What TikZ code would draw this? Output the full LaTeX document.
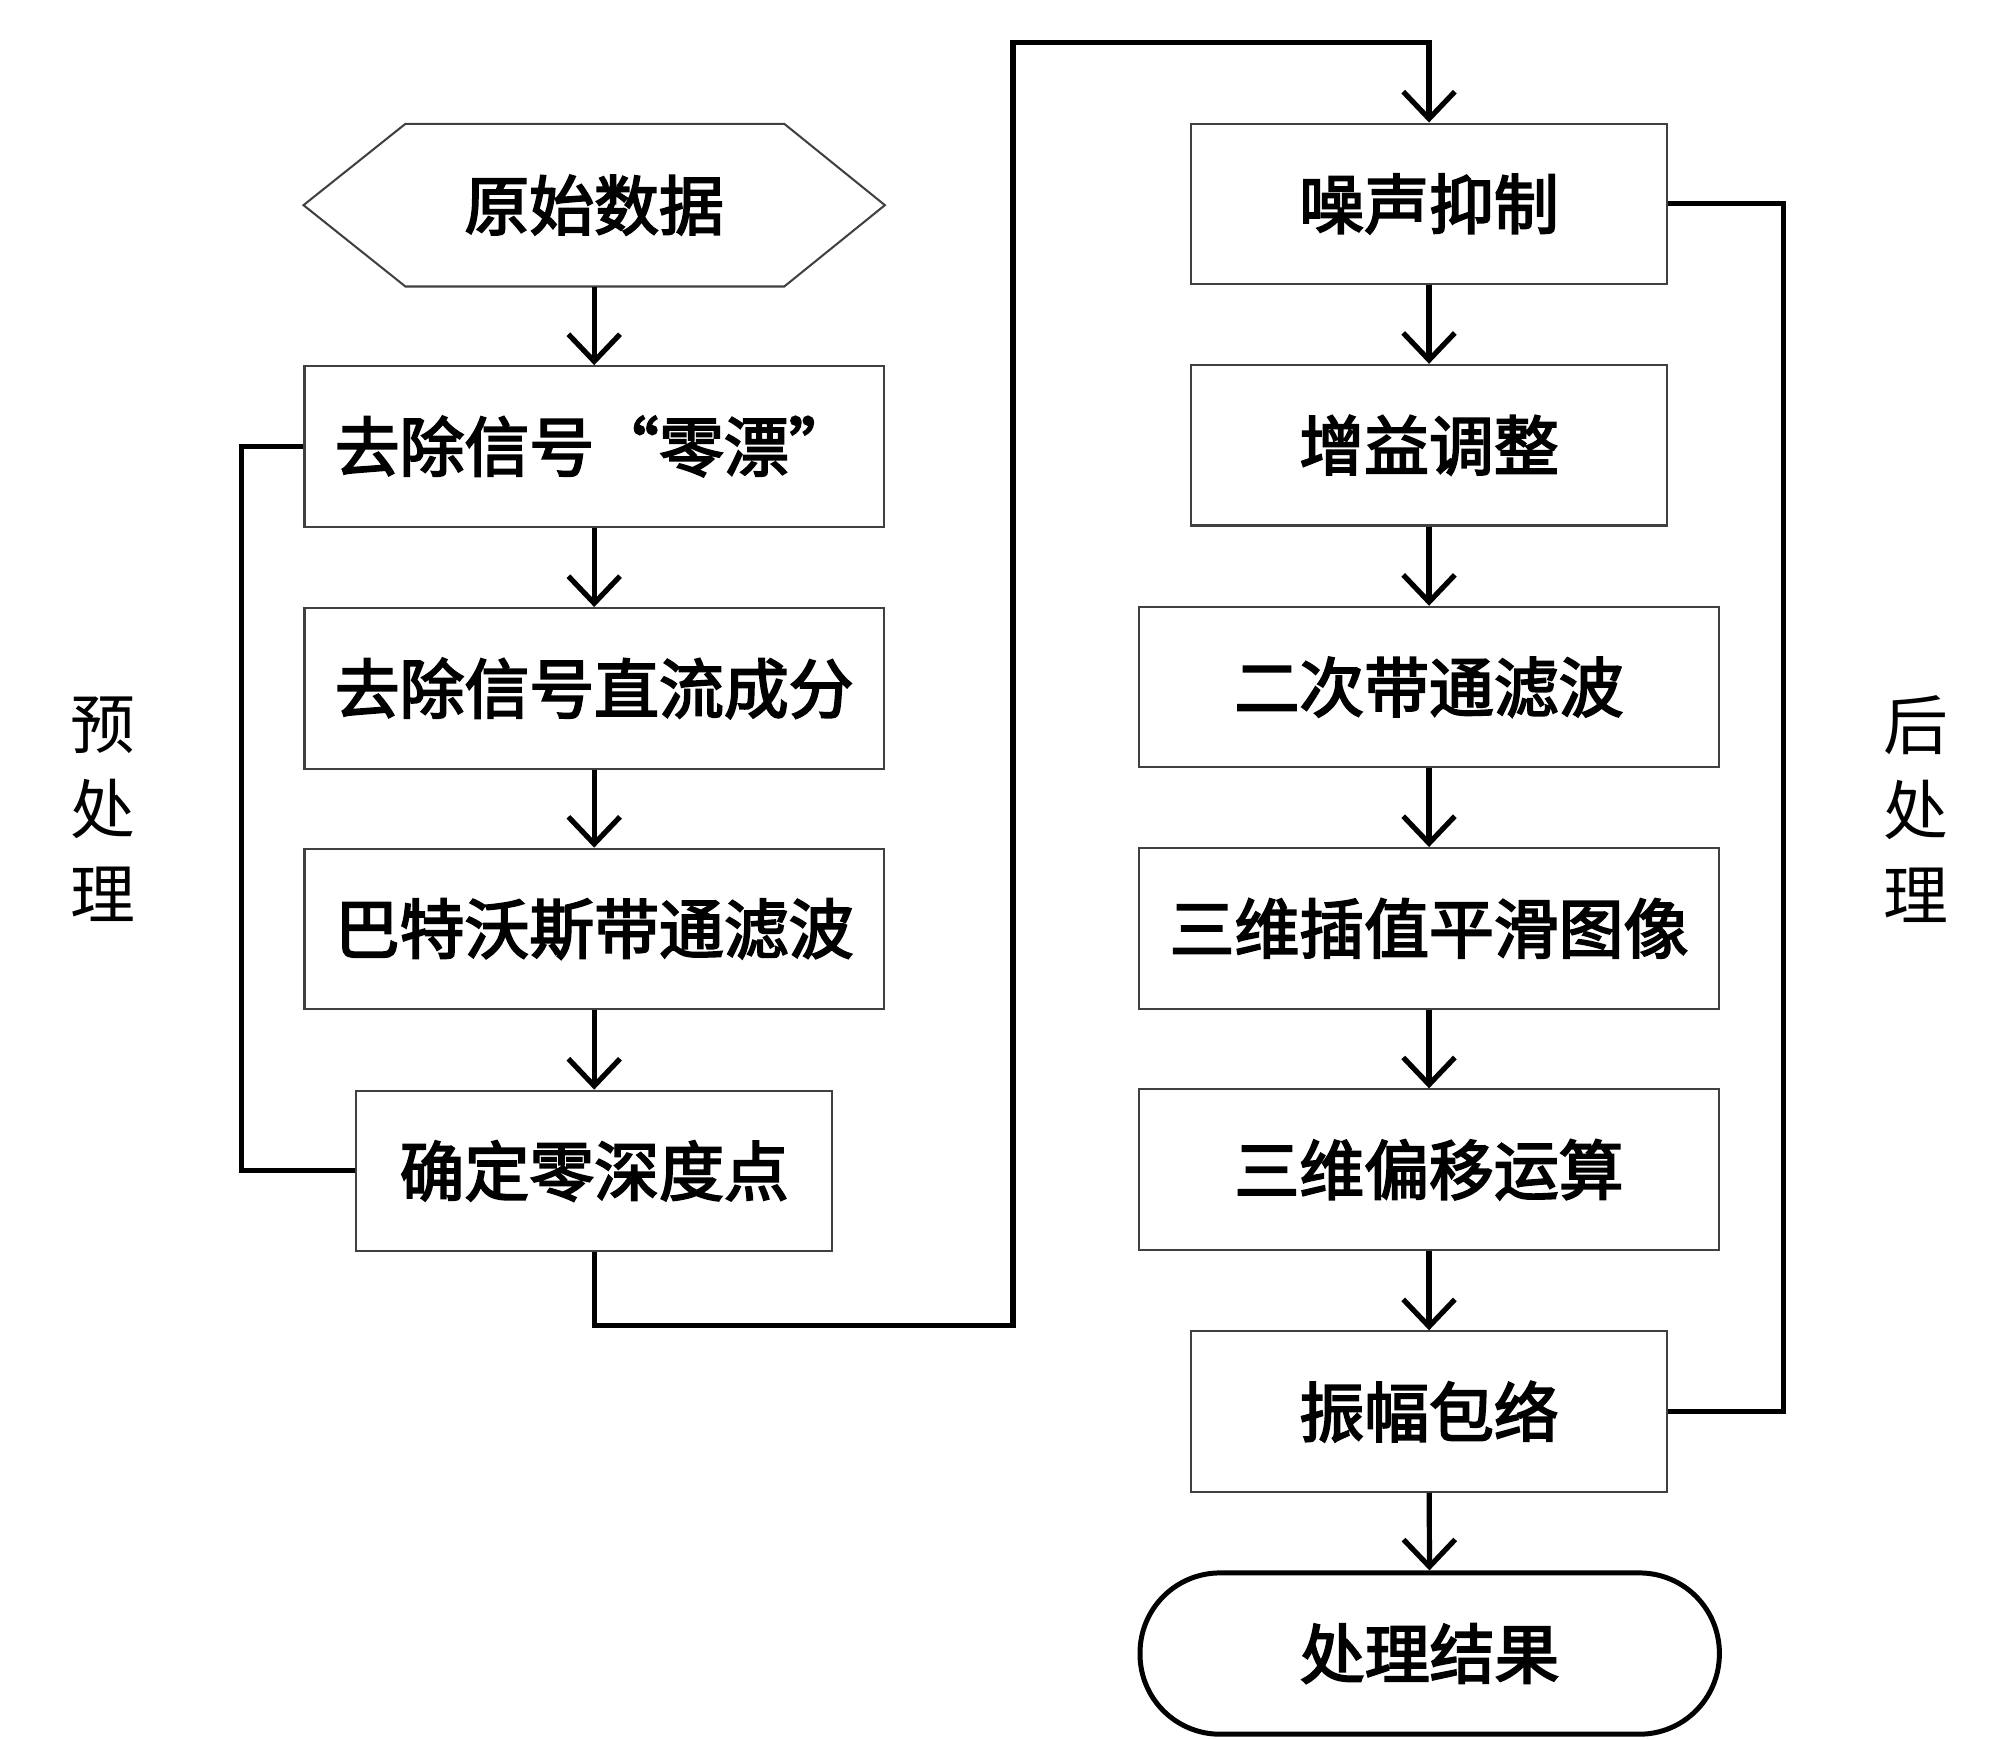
\documentclass[tikz,border=0pt]{standalone}
\usepackage{fontspec}
\newfontfamily\cjk{Noto Sans CJK SC}
\newfontfamily\cjkm{Noto Sans CJK SC}[FakeBold=3]
\usetikzlibrary{arrows.meta,calc}
\begin{document}
\begin{tikzpicture}[
  box/.style={draw=black!75, line width=0.45pt, minimum height=1.245cm, inner sep=0pt,
              font=\cjkm\fontsize{14.3pt}{17pt}\selectfont},
  wbox/.style={box, minimum width=4.49cm},
  nbox/.style={box, minimum width=3.69cm},
  arr/.style={line width=1.15pt, -{Straight Barb[length=0.21cm,width=0.4cm]}},
  link/.style={line width=1.1pt},
  side/.style={align=center, inner sep=0pt, font=\cjk\fontsize{14.3pt}{18.8pt}\selectfont}
]
\useasboundingbox (0,0) rectangle (15.5,-13.48);
% left column
\node[wbox, draw=none] (start) at (4.605,-1.59) {原始数据};
\draw[black!75, line width=0.45pt] (start.west) -- ($(start.north west)+(0.79,0)$) -- ($(start.north east)+(-0.78,0)$) -- (start.east) -- ($(start.south east)+(-0.78,0)$) -- ($(start.south west)+(0.79,0)$) -- cycle;
\node[wbox] (b1) at (4.605,-3.46) {去除信号“零漂”};
\node[wbox] (b2) at (4.605,-5.335) {去除信号直流成分};
\node[wbox] (b3) at (4.605,-7.20) {巴特沃斯带通滤波};
\node[nbox] (b4) at (4.605,-9.075) {确定零深度点};
% right column
\node[nbox] (b5) at (11.075,-1.58) {噪声抑制};
\node[nbox] (b6) at (11.075,-3.45) {增益调整};
\node[wbox] (b7) at (11.075,-5.325) {二次带通滤波};
\node[wbox] (b8) at (11.075,-7.195) {三维插值平滑图像};
\node[wbox] (b9) at (11.075,-9.065) {三维偏移运算};
\node[nbox] (b10) at (11.075,-10.94) {振幅包络};
\node[box, draw=black, line width=1.1pt, minimum width=4.49cm, minimum height=1.25cm, rounded corners=0.62cm] (end) at (11.08,-12.815) {处理结果};
% side labels
\node[side] (lpre) at (0.80,-6.27) {预\\处\\理};
\node[side] (lpost) at (14.85,-6.27) {后\\处\\理};
% connectors
\draw[arr] (start) -- (b1);
\draw[arr] (b1) -- (b2);
\draw[arr] (b2) -- (b3);
\draw[arr] (b3) -- (b4);
\coordinate (top) at (7.85,-0.33);
\draw[arr] (b4.south) -- ++(0,-0.57) -| (top) -| (b5.north);
\draw[arr] (b5) -- (b6);
\draw[arr] (b6) -- (b7);
\draw[arr] (b7) -- (b8);
\draw[arr] (b8) -- (b9);
\draw[arr] (b9) -- (b10);
\draw[arr] (b10) -- (end);
\coordinate (lx) at (1.87,0);
\draw[link] (b1.west) -| (lx |- b4.west) -- (b4.west);
\coordinate (rx) at (13.82,0);
\draw[link] (b5.east) -| (rx |- b10.east) -- (b10.east);
\end{tikzpicture}
\end{document}
